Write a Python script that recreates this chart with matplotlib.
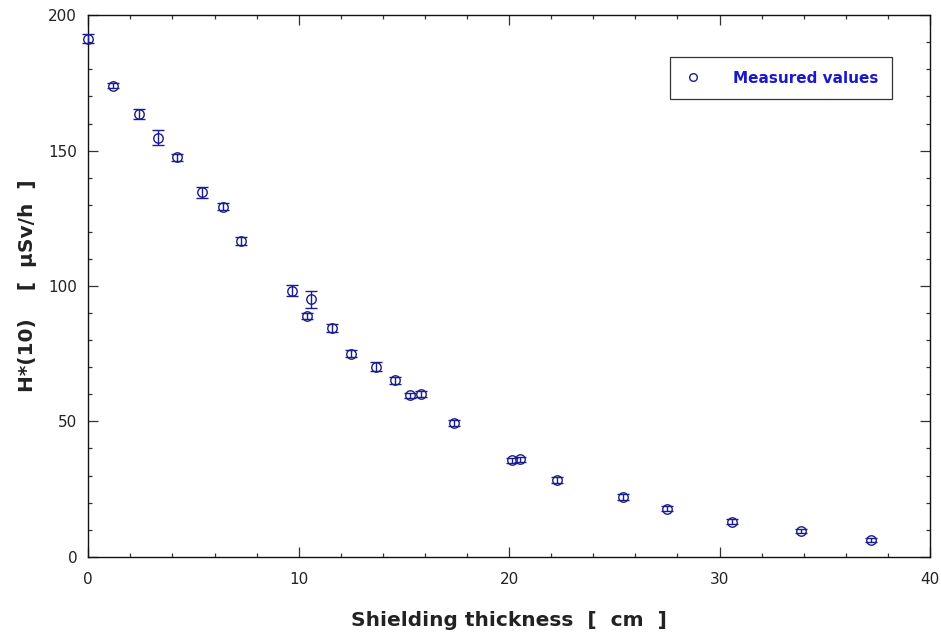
import numpy as np
import matplotlib
matplotlib.use("Agg")
import matplotlib.pyplot as plt
from matplotlib.ticker import MultipleLocator
from matplotlib.lines import Line2D

# dose-rate readings behind increasing shielding
thickness_cm = [0.0, 1.17, 2.39, 3.30, 4.20, 5.40, 6.39, 7.26, 9.68, 10.38, 10.58,
                11.60, 12.49, 13.69, 14.58, 15.29, 15.80, 17.37, 20.15, 20.52,
                22.29, 25.40, 27.49, 30.59, 33.87, 37.19]
dose_uSv_h = [191.4, 174.0, 163.5, 154.8, 147.5, 134.6, 129.2, 116.6, 98.2, 89.0, 95.1,
              84.5, 75.0, 70.2, 65.2, 59.7, 60.1, 49.5, 35.6, 36.0,
              28.3, 22.1, 17.7, 12.9, 9.5, 6.1]
dose_err = [1.6, 1.0, 1.7, 2.7, 1.2, 2.0, 1.3, 1.4, 2.0, 1.2, 3.1,
            1.4, 1.3, 1.6, 1.3, 0.9, 1.0, 1.1, 0.9, 1.0,
            1.0, 1.0, 0.9, 0.9, 0.8, 0.8]

NAVY = "#1c1c8c"
TXT = "#222222"

fig = plt.figure(figsize=(9.41, 6.34), dpi=100)
ax = fig.add_axes([0.0938, 0.1219, 0.8945, 0.854])

ax.errorbar(thickness_cm, dose_uSv_h, yerr=dose_err, fmt="o", mfc="none", mec=NAVY,
            ecolor=NAVY, mew=1.0, ms=6.8, elinewidth=1.0, capsize=4, capthick=1.0,
            label="Measured values", clip_on=False, zorder=3)

ax.set_xlim(0, 40)
ax.set_ylim(0, 200)
ax.xaxis.set_major_locator(MultipleLocator(10))
ax.xaxis.set_minor_locator(MultipleLocator(2))
ax.yaxis.set_major_locator(MultipleLocator(50))
ax.yaxis.set_minor_locator(MultipleLocator(10))
ax.tick_params(which="both", direction="in", top=True, right=True, colors="#333333",
               labelcolor=TXT, labelsize=11, width=0.9)
ax.tick_params(axis="x", which="major", length=7, pad=11)
ax.tick_params(axis="y", which="major", length=7, pad=8)
ax.tick_params(which="minor", length=3)
for s in ax.spines.values():
    s.set_color("#111111")
    s.set_linewidth(1.0)

ax.set_xlabel("Shielding thickness  [  cm  ]", fontsize=14.5, fontweight="bold",
              color=TXT, labelpad=17)
ax.set_ylabel("H*(10)    [  µSv/h  ]", fontsize=14.5, fontweight="bold",
              color=TXT, labelpad=8)

# legend: circle handle only, no error bar
handle = Line2D([], [], ls="none", marker="o", mfc="none", mec=NAVY, ms=5.5, mew=1.0)
leg = ax.legend([handle], ["Measured values"], loc="upper right",
                bbox_to_anchor=(0.955, 0.923), fancybox=False, framealpha=1,
                edgecolor="#333333", borderpad=0.9, handlelength=1.2,
                handletextpad=2.0, borderaxespad=0,
                prop={"weight": "bold", "size": 11})
leg.get_frame().set_linewidth(0.9)
for t in leg.get_texts():
    t.set_color("#1a1acc")

fig.savefig("out.png", dpi=100)
